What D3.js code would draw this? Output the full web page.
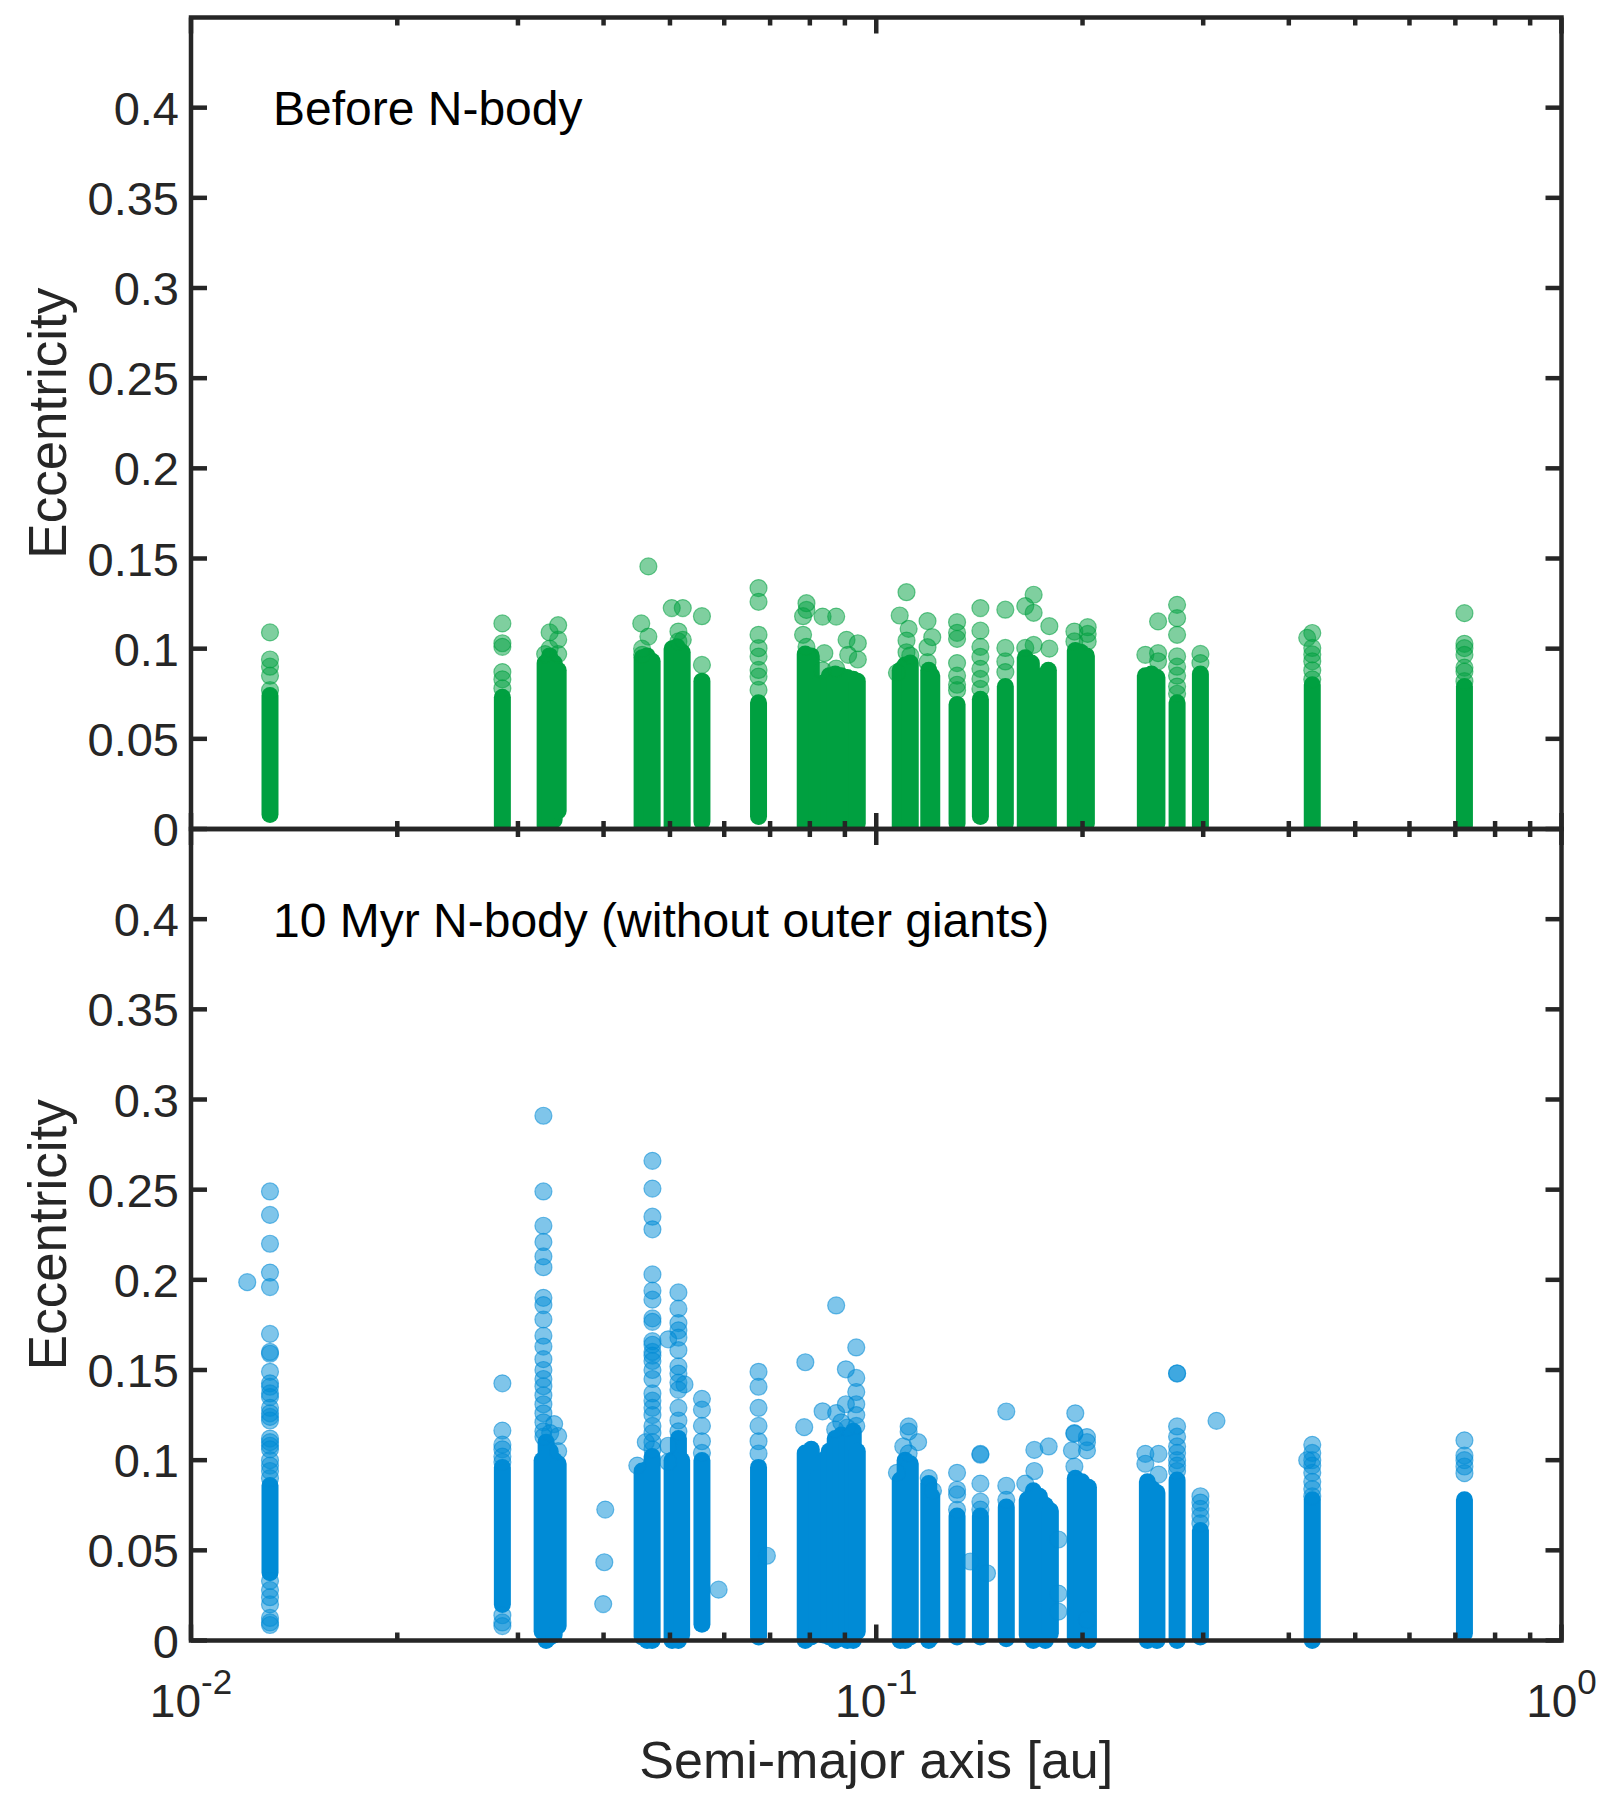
<!DOCTYPE html>
<html>
<head>
<meta charset="utf-8">
<script src="https://cdn.jsdelivr.net/npm/d3@7"></script>
<style>
  body { margin: 0; background: #fff; }
  text { font-family: "Liberation Sans", Arial, Helvetica, sans-serif; }
</style>
</head>
<body>
<div id="chart"></div>
<script>
// axis values
const yTicks = [0, 0.05, 0.1, 0.15, 0.2, 0.25, 0.3, 0.35, 0.4];
const xDomain = [0.01, 1];
const yDomain = [0, 0.45];
const panelLabels = ["Before N-body", "10 Myr N-body (without outer giants)"];
const yLabel = "Eccentricity";
const xLabel = "Semi-major axis [au]";

// dense parts of each column: [semi-major axis, lowest e, highest e]
const beforeBands = [
  [0.01304, 0.008, 0.074],
  [0.02847, 0.002, 0.073],
  [0.03287, 0.002, 0.092], [0.03337, 0.003, 0.096], [0.03388, 0.005, 0.092], [0.03434, 0.010, 0.088],
  [0.04553, 0.000, 0.095], [0.04630, 0.000, 0.096], [0.04709, 0.002, 0.093],
  [0.05036, 0.000, 0.100], [0.05122, 0.000, 0.101], [0.05209, 0.002, 0.098],
  [0.05567, 0.004, 0.082],
  [0.06733, 0.007, 0.070],
  [0.07877, 0.000, 0.097], [0.08038, 0.002, 0.096], [0.08201, 0.003, 0.080], [0.08368, 0.005, 0.081],
  [0.08539, 0.000, 0.085], [0.08713, 0.000, 0.086], [0.08891, 0.002, 0.085], [0.09072, 0.000, 0.084],
  [0.09256, 0.000, 0.083], [0.09382, 0.003, 0.082],
  [0.1084, 0.000, 0.088], [0.1102, 0.000, 0.091], [0.1121, 0.000, 0.092],
  [0.1193, 0.000, 0.088], [0.1205, 0.002, 0.085],
  [0.1312, 0.003, 0.069],
  [0.1419, 0.007, 0.072],
  [0.1543, 0.003, 0.079],
  [0.1650, 0.000, 0.095], [0.1684, 0.003, 0.092], [0.1718, 0.002, 0.075], [0.1753, 0.000, 0.085], [0.1783, 0.001, 0.088],
  [0.1952, 0.002, 0.099], [0.1989, 0.000, 0.098], [0.2026, 0.003, 0.096],
  [0.2470, 0.002, 0.085], [0.2521, 0.000, 0.086], [0.2568, 0.003, 0.084],
  [0.2748, 0.000, 0.070],
  [0.2972, 0.002, 0.086],
  [0.4328, 0.000, 0.080],
  [0.7217, 0.002, 0.079]
];

// single points above / apart from the dense parts: [semi-major axis, [e, ...]]
const beforeDots = [
  [0.01304, [0.077, 0.085, 0.090, 0.094, 0.109]],
  [0.02847, [0.078, 0.083, 0.087, 0.101, 0.103, 0.114]],
  [0.03287, [0.097]],
  [0.03337, [0.109, 0.100]],
  [0.03434, [0.113, 0.105, 0.097]],
  [0.04540, [0.114]],
  [0.04650, [0.1456, 0.1067]],
  [0.04553, [0.0966, 0.100]],
  [0.05030, [0.1225]],
  [0.05220, [0.1225, 0.1049]],
  [0.05144, [0.1095, 0.104]],
  [0.05567, [0.091, 0.118]],
  [0.06733, [0.0771, 0.0845, 0.0882, 0.0956, 0.1003, 0.1077, 0.126, 0.1336]],
  [0.0791, [0.1252, 0.1215, 0.101]],
  [0.0782, [0.1180, 0.1077]],
  [0.0835, [0.1178, 0.088]],
  [0.0840, [0.0975]],
  [0.0874, [0.1178, 0.089]],
  [0.0905, [0.1049]],
  [0.0910, [0.0966]],
  [0.0940, [0.1030, 0.094]],
  [0.1107, [0.1313, 0.1045, 0.098]],
  [0.1082, [0.1184]],
  [0.1115, [0.1110]],
  [0.1121, [0.0962]],
  [0.1072, [0.0866]],
  [0.1188, [0.1153, 0.1008, 0.0925]],
  [0.1207, [0.1064]],
  [0.1312, [0.1147, 0.1088, 0.1054, 0.092, 0.085, 0.080, 0.077]],
  [0.1419, [0.1225, 0.110, 0.101, 0.0955, 0.0888, 0.0832, 0.0777]],
  [0.1543, [0.1216, 0.1004, 0.0929, 0.0870]],
  [0.1697, [0.1299, 0.1199, 0.1021]],
  [0.1650, [0.1236, 0.1004]],
  [0.1789, [0.1125, 0.100]],
  [0.1946, [0.1095, 0.104]],
  [0.2035, [0.1119, 0.1082, 0.104]],
  [0.2578, [0.1151, 0.0975, 0.093]],
  [0.2470, [0.0966]],
  [0.2748, [0.1243, 0.1169, 0.1077, 0.0957, 0.090, 0.085, 0.079, 0.075]],
  [0.2972, [0.0971, 0.0920]],
  [0.4328, [0.1087, 0.1004, 0.0968, 0.093, 0.088, 0.083]],
  [0.4255, [0.1060]],
  [0.7217, [0.1197, 0.1027, 0.1003, 0.0966, 0.0895, 0.0873, 0.082]]
];

const afterBands = [
  [0.01304, 0.0376, 0.086],
  [0.02847, 0.020, 0.096],
  [0.03254, 0.005, 0.100], [0.03298, 0.000, 0.110], [0.03343, 0.002, 0.105], [0.03388, 0.003, 0.100], [0.03434, 0.008, 0.098],
  [0.04553, 0.002, 0.094], [0.04630, 0.000, 0.095], [0.04709, 0.000, 0.102],
  [0.05036, 0.000, 0.100], [0.05144, 0.000, 0.112], [0.05200, 0.003, 0.100],
  [0.05567, 0.009, 0.0998],
  [0.06733, 0.002, 0.096],
  [0.07877, 0.000, 0.104], [0.08038, 0.002, 0.106], [0.08201, 0.004, 0.090], [0.08368, 0.003, 0.100],
  [0.08539, 0.002, 0.105], [0.08713, 0.000, 0.112], [0.08891, 0.003, 0.114], [0.09072, 0.000, 0.110],
  [0.09256, 0.000, 0.116], [0.09382, 0.005, 0.105],
  [0.1084, 0.000, 0.089], [0.1102, 0.000, 0.100], [0.1121, 0.002, 0.098],
  [0.1193, 0.000, 0.087], [0.1205, 0.002, 0.080],
  [0.1312, 0.002, 0.069],
  [0.1419, 0.002, 0.069],
  [0.1548, 0.001, 0.074],
  [0.1661, 0.003, 0.078], [0.1695, 0.000, 0.083], [0.1730, 0.002, 0.080], [0.1765, 0.000, 0.075], [0.1795, 0.004, 0.072],
  [0.1952, 0.000, 0.090], [0.1995, 0.002, 0.088], [0.2040, 0.000, 0.085],
  [0.2487, 0.000, 0.088], [0.2529, 0.002, 0.084], [0.2568, 0.000, 0.082],
  [0.2748, 0.000, 0.089],
  [0.2972, 0.002, 0.061],
  [0.4328, 0.000, 0.078],
  [0.7217, 0.004, 0.078]
];

const afterDots = [
  [0.01208, [0.1987]],
  [0.01304, [0.249, 0.236, 0.220, 0.204, 0.196, 0.170, 0.160, 0.159, 0.149, 0.1426, 0.1407, 0.137, 0.135,
             0.129, 0.126, 0.124, 0.122, 0.112, 0.110, 0.108, 0.106, 0.100, 0.097, 0.094, 0.090,
             0.033, 0.028, 0.024, 0.020, 0.0125, 0.010, 0.0086]],
  [0.02847, [0.1426, 0.1164, 0.1086, 0.106, 0.102, 0.099, 0.014, 0.010, 0.008]],
  [0.03268, [0.291, 0.249, 0.230, 0.221, 0.213, 0.207, 0.190, 0.186, 0.178, 0.169, 0.163, 0.156, 0.150,
             0.145, 0.141, 0.136, 0.131, 0.126, 0.121, 0.116, 0.113]],
  [0.03434, [0.1134, 0.105]],
  [0.03388, [0.120]],
  [0.03343, [0.115]],
  [0.04023, [0.0726]], [0.04010, [0.0434]], [0.03995, [0.0202]],
  [0.04714, [0.266, 0.2506, 0.235, 0.228, 0.203, 0.194, 0.189, 0.1786, 0.1767, 0.166, 0.164, 0.160, 0.158,
             0.155, 0.150, 0.145, 0.137, 0.133, 0.129, 0.125, 0.119, 0.115, 0.110, 0.106]],
  [0.04610, [0.110]],
  [0.04480, [0.097]],
  [0.05144, [0.193, 0.184, 0.176, 0.172, 0.168, 0.161, 0.152, 0.148, 0.143, 0.139, 0.129, 0.122, 0.116]],
  [0.04970, [0.167, 0.108, 0.099]],
  [0.05250, [0.142]],
  [0.05567, [0.134, 0.128, 0.119, 0.1105, 0.104]],
  [0.05888, [0.0282]],
  [0.06733, [0.149, 0.1407, 0.129, 0.119, 0.1105, 0.1037]],
  [0.06925, [0.047]],
  [0.0788, [0.1543]],
  [0.0785, [0.1183]],
  [0.0835, [0.1271]],
  [0.0874, [0.1858, 0.1261]],
  [0.0903, [0.1504, 0.131]],
  [0.0935, [0.1625, 0.1456, 0.1378, 0.131, 0.125, 0.119]],
  [0.0907, [0.118]],
  [0.0889, [0.121]],
  [0.0871, [0.117]],
  [0.1115, [0.1187, 0.1158, 0.1038]],
  [0.1095, [0.1076]],
  [0.1151, [0.110]],
  [0.1072, [0.093]],
  [0.1193, [0.090]],
  [0.1210, [0.083]],
  [0.1312, [0.093, 0.0836, 0.081, 0.0725]],
  [0.1372, [0.0438]],
  [0.1419, [0.103, 0.1035, 0.087, 0.077, 0.0726]],
  [0.1451, [0.0373]],
  [0.1548, [0.127, 0.0858, 0.078]],
  [0.1701, [0.1057, 0.094]],
  [0.1785, [0.1076]],
  [0.1650, [0.087]],
  [0.1844, [0.056, 0.026, 0.016]],
  [0.1952, [0.126]],
  [0.1946, [0.1146, 0.1150, 0.0965]],
  [0.2030, [0.1128, 0.110, 0.1054, 0.0115]],
  [0.1930, [0.1054]],
  [0.2470, [0.1035, 0.098]],
  [0.2582, [0.1035, 0.092]],
  [0.2748, [0.148, 0.1482, 0.1187, 0.113, 0.1076, 0.104, 0.100, 0.097, 0.094]],
  [0.3137, [0.1218]],
  [0.2972, [0.080, 0.0765, 0.073, 0.069, 0.065]],
  [0.4328, [0.1085, 0.104, 0.100, 0.097, 0.093, 0.088, 0.084, 0.080]],
  [0.4255, [0.100]],
  [0.7217, [0.111, 0.1026, 0.100, 0.0965, 0.0928]]
];

const W = 1611, H = 1806;
const left = 191, right = 1561.5;
const axisColor = "#262626";
const R = 8.5;
const majorLen = 16, minorLen = 8;

const panels = [
  { top: 17.5, bottom: 829, bands: beforeBands, dots: beforeDots, color: "#00a040", label: panelLabels[0], clip: true },
  { top: 829, bottom: 1640.5, bands: afterBands, dots: afterDots, color: "#008bd6", label: panelLabels[1], clip: false }
];

const svg = d3.select("#chart").append("svg")
  .attr("width", W)
  .attr("height", H);

// the lower axes hides what spills below the upper one
svg.append("defs").append("clipPath")
  .attr("id", "clip-top")
  .append("rect")
  .attr("x", 0).attr("y", 0)
  .attr("width", W).attr("height", panels[0].bottom);

const x = d3.scaleLog().domain(xDomain).range([left, right]);
const xAll = x.ticks();
const xMajor = xAll.filter(d => Math.abs(Math.log10(d) - Math.round(Math.log10(d))) < 1e-9);
const xMinor = xAll.filter(d => !xMajor.includes(d));

panels.forEach((p, i) => {
  const y = d3.scaleLinear().domain(yDomain).range([p.bottom, p.top]);

  const marks = svg.append("g");
  if (p.clip) marks.attr("clip-path", "url(#clip-top)");

  marks.selectAll("line.band")
    .data(p.bands)
    .join("line")
    .attr("class", "band")
    .attr("x1", d => x(d[0]))
    .attr("x2", d => x(d[0]))
    .attr("y1", d => y(d[1]))
    .attr("y2", d => y(d[2]))
    .attr("stroke", p.color)
    .attr("stroke-width", 2 * R)
    .attr("stroke-linecap", "round");

  const pts = p.dots.flatMap(([a, es]) => es.map(e => ({ a, e })));
  marks.selectAll("circle")
    .data(pts)
    .join("circle")
    .attr("cx", d => x(d.a))
    .attr("cy", d => y(d.e))
    .attr("r", R)
    .attr("fill", p.color)
    .attr("fill-opacity", 0.5)
    .attr("stroke", p.color)
    .attr("stroke-opacity", 0.55)
    .attr("stroke-width", 1.2);

  const ax = svg.append("g")
    .attr("stroke", axisColor)
    .attr("stroke-width", 4.5);

  // y ticks, inward on both sides
  ax.selectAll("line.yl").data(yTicks).join("line")
    .attr("x1", left).attr("x2", left + majorLen)
    .attr("y1", d => y(d)).attr("y2", d => y(d));
  ax.selectAll("line.yr").data(yTicks).join("line")
    .attr("x1", right).attr("x2", right - majorLen)
    .attr("y1", d => y(d)).attr("y2", d => y(d));

  // x ticks, inward at top and bottom
  [[p.top, 1], [p.bottom, -1]].forEach(([yy, dir]) => {
    ax.append("g").selectAll("line").data(xMajor).join("line")
      .attr("x1", d => x(d)).attr("x2", d => x(d))
      .attr("y1", yy).attr("y2", yy + dir * majorLen);
    ax.append("g").selectAll("line").data(xMinor).join("line")
      .attr("x1", d => x(d)).attr("x2", d => x(d))
      .attr("y1", yy).attr("y2", yy + dir * minorLen);
  });

  ax.append("rect")
    .attr("x", left).attr("y", p.top)
    .attr("width", right - left).attr("height", p.bottom - p.top)
    .attr("fill", "none");

  svg.append("g").selectAll("text").data(yTicks).join("text")
    .attr("x", left - 12)
    .attr("y", d => y(d) + 17)
    .attr("text-anchor", "end")
    .attr("font-size", 47)
    .attr("fill", axisColor)
    .text(d => d3.format("~g")(d));

  svg.append("text")
    .attr("x", 273)
    .attr("y", p.top + 107.5)
    .attr("font-size", 48)
    .attr("fill", "#000")
    .text(p.label);

  svg.append("text")
    .attr("transform", `translate(66,${(p.top + p.bottom) / 2}) rotate(-90)`)
    .attr("text-anchor", "middle")
    .attr("font-size", 53)
    .attr("fill", axisColor)
    .text(yLabel);

  if (i === panels.length - 1) {
    const lab = svg.append("g").selectAll("text").data(xMajor).join("text")
      .attr("x", d => x(d))
      .attr("y", p.bottom + 76)
      .attr("text-anchor", "middle")
      .attr("font-size", 46)
      .attr("fill", axisColor);
    lab.append("tspan").text("10");
    lab.append("tspan")
      .attr("dy", -23)
      .attr("font-size", 35)
      .text(d => String(Math.round(Math.log10(d))));

    svg.append("text")
      .attr("x", (left + right) / 2)
      .attr("y", p.bottom + 137)
      .attr("text-anchor", "middle")
      .attr("font-size", 52)
      .attr("fill", axisColor)
      .text(xLabel);
  }
});
</script>
</body>
</html>
